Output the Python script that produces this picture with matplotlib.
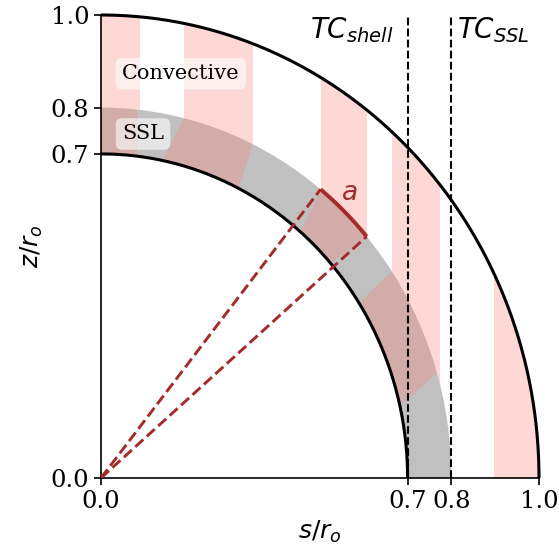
import matplotlib
matplotlib.use('Agg')
import matplotlib.pyplot as plt
import numpy as np
from matplotlib.patches import Wedge


plt.rcParams['font.family'] = 'DejaVu Serif'
plt.rcParams['mathtext.fontset'] = 'dejavusans'

# radii of the shell, the stable layer top and the outer boundary
r_in, r_ssl, r_out = 0.7, 0.8, 1.0

# convective columns (s-ranges) outside the SSL
conv_x0 = [0.0, 0.190, 0.502, 0.664, 0.898]
conv_x1 = [0.089, 0.346, 0.607, 0.774, 1.0]

# SSL patches: angle ranges (deg) at inner and outer SSL radius
ssl_in_lo = [83.3, 63.4, 41.5, 13.0]
ssl_in_hi = [95.0, 78.3, 49.5, 32.7]
ssl_out_lo = [83.9, 64.3, 40.6, 16.5]
ssl_out_hi = [95.0, 76.3, 51.1, 34.0]

# wavelength marker a
arc_deg = [40.7, 51.2]

ticks = [0.0, 0.7, 0.8, 1.0]
tick_labels = ['0.0', '0.7', '0.8', '1.0']
tc_x = [0.7, 0.8]

pink = 'salmon'
red = 'brown'

fig = plt.figure(figsize=(5.59, 5.54), dpi=100)
ax = fig.add_axes([101/559, 1 - 478/554, 438/559, 463/554])

ssl = Wedge((0, 0), r_ssl, 0, 90, width=r_ssl - r_in, facecolor='silver',
            edgecolor='none', zorder=1)
ax.add_patch(ssl)
conv = Wedge((0, 0), r_out, 0, 90, width=r_out - r_ssl, transform=ax.transData)

for x0, x1 in zip(conv_x0, conv_x1):
    sp = ax.axvspan(x0, x1, color=pink, alpha=0.3, lw=0, zorder=2)
    sp.set_clip_path(conv)


def blob(lo_in, hi_in, lo_out, hi_out, p=0.3, n=300):
    t = np.linspace(0, 2*np.pi, n)
    u = np.sign(np.cos(t))*np.abs(np.cos(t))**p
    v = np.sign(np.sin(t))*np.abs(np.sin(t))**p
    r = 0.5*(r_in + r_ssl) + 0.065*v
    f = np.clip((r - r_in)/(r_ssl - r_in), 0, 1)
    lo = lo_in + (lo_out - lo_in)*f
    hi = hi_in + (hi_out - hi_in)*f
    th = np.deg2rad(0.5*(lo + hi) + 0.5*(hi - lo)*u)
    return r*np.cos(th), r*np.sin(th)


for k in range(len(ssl_in_lo)):
    bx, by = blob(ssl_in_lo[k], ssl_in_hi[k], ssl_out_lo[k], ssl_out_hi[k])
    for poly in ax.fill(bx, by, color=pink, alpha=0.3, lw=0, zorder=2):
        poly.set_clip_path(ssl)

th = np.linspace(0, np.pi/2, 400)
for r in (r_in, r_out):
    ax.plot(r*np.cos(th), r*np.sin(th), color='k', lw=2.2, zorder=3,
            clip_on=False, solid_capstyle='butt')

for x in tc_x:
    ax.axvline(x, color='k', ls='--', lw=1.5, zorder=3)
ax.text(0.668, 0.95, r'$TC_{shell}$', ha='right', va='baseline', fontsize=20)
ax.text(0.812, 0.95, r'$TC_{SSL}$', ha='left', va='baseline', fontsize=20)

# wavelength arc and dashed rays
ta = np.deg2rad(np.linspace(arc_deg[0], arc_deg[1], 100))
ax.plot(r_ssl*np.cos(ta), r_ssl*np.sin(ta), color=red, lw=2.8, zorder=4,
        solid_capstyle='butt')
for a in arc_deg:
    ang = np.deg2rad(a)
    ax.plot([0, r_ssl*np.cos(ang)], [0, r_ssl*np.sin(ang)], color=red,
            ls='--', lw=2.1, zorder=4)
ax.text(0.566, 0.616, r'$a$', color=red, ha='center', va='center', fontsize=19)

box = dict(boxstyle='round,pad=0.3', facecolor='white', edgecolor='none', alpha=0.6)
ax.text(0.048, 0.873, 'Convective', ha='left', va='center', fontsize=15,
        bbox=box, zorder=6)
ax.text(0.048, 0.743, 'SSL', ha='left', va='center', fontsize=15,
        bbox=box, zorder=6)

ax.set_xlim(0, 1)
ax.set_ylim(0, 1)
ax.set_xticks(ticks)
ax.set_xticklabels(tick_labels)
ax.set_yticks(ticks)
ax.set_yticklabels(tick_labels)
ax.tick_params(labelsize=17.5, length=5, width=1.2)
for s in ('top', 'right'):
    ax.spines[s].set_visible(False)
for s in ('left', 'bottom'):
    ax.spines[s].set_linewidth(1.2)
ax.set_xlabel(r'$s/r_o$', fontsize=18)
ax.set_ylabel(r'$z/r_o$', fontsize=18)

fig.savefig('out.png', dpi=100)
